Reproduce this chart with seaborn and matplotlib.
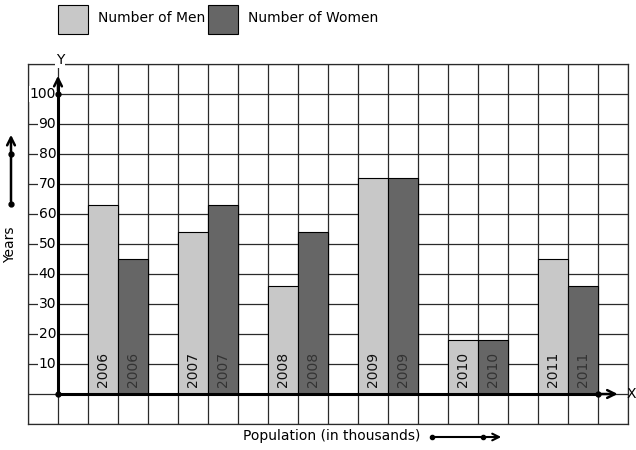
import numpy as np
import pandas as pd
import matplotlib
matplotlib.use("Agg")
import matplotlib.pyplot as plt
import seaborn as sns

# data
years = ["2006", "2007", "2008", "2009", "2010", "2011"]
men = [63, 54, 36, 72, 18, 45]
women = [45, 63, 54, 72, 18, 36]
series_names = ["Number of Men", "Number of Women"]
yticks = [10, 20, 30, 40, 50, 60, 70, 80, 90, 100]

light = "#c8c8c8"
dark = "#666666"

df = pd.DataFrame({
    "year": years * 2,
    "value": men + women,
    "series": [series_names[0]] * len(years) + [series_names[1]] * len(years),
})

sns.set_style("white")
plt.rcParams["font.family"] = ["DejaVu Sans"]
plt.rcParams["text.color"] = "black"

W, H = 636, 450
fig = plt.figure(figsize=(W / 100, H / 100), dpi=100)
ax = fig.add_axes([28 / W, (H - 424) / H, 600 / W, 360 / H])

# one category = 3 grid cells, each bar = 1 cell
sns.barplot(data=df, x="year", y="value", hue="series", order=years,
            hue_order=series_names, palette=[light, dark], width=2 / 3,
            edgecolor="black", linewidth=0.8, legend=False, ax=ax, zorder=3)

ax.set_xlim(-1, 17 / 3)
ax.set_ylim(-10, 110)

# grid of square cells
for gx in np.arange(-1, 17 / 3 + 0.01, 1 / 3):
    ax.axvline(gx, color="#2a2a2a", lw=0.9, zorder=1)
for gy in range(-10, 111, 10):
    ax.axhline(gy, color="#2a2a2a", lw=0.9, zorder=1)
for s in ax.spines.values():
    s.set_color("#2a2a2a")
    s.set_linewidth(0.9)

ax.set_xticks([])
ax.set_yticks([])
ax.set_xlabel("")
ax.set_ylabel("")

# axes drawn as thick lines with arrows
x0 = -2 / 3
ax.plot([x0, x0], [0, 104], color="black", lw=2.2, zorder=5, clip_on=False)
ax.annotate("", xy=(x0, 107), xytext=(x0, 100),
            arrowprops=dict(arrowstyle="->", lw=1.8, color="black",
                            mutation_scale=14), zorder=6)
ax.plot([x0, 16 / 3], [0, 0], color="black", lw=2.2, zorder=5)
ax.annotate("", xy=(16 / 3 + 0.25, 0), xytext=(16 / 3, 0),
            arrowprops=dict(arrowstyle="->", lw=1.8, color="black",
                            mutation_scale=14), zorder=6, annotation_clip=False)
ax.plot([x0, x0, 16 / 3], [0, 100, 0], "o", color="black", ms=3.5, zorder=7,
        clip_on=False)
ax.text(x0 + 0.02, 111.2, "Y", ha="center", va="center", fontsize=10,
        zorder=8, bbox=dict(facecolor="white", edgecolor="none", pad=0.5))
ax.text(17 / 3 - 0.02, 0, "X", ha="left", va="center", fontsize=10)

for v in yticks:
    ax.text(x0 - 0.02, v, str(v), ha="right", va="center", fontsize=10,
            zorder=4, bbox=dict(facecolor="white", edgecolor="none", pad=0.6))

# year labels inside the bars
for i, yr in enumerate(years):
    ax.text(i - 1 / 6, 2.3, yr, rotation=90, ha="center", va="bottom",
            fontsize=10, color="#111111", zorder=6)
    ax.text(i + 1 / 6, 2.3, yr, rotation=90, ha="center", va="bottom",
            fontsize=10, color="#333333", zorder=6)

# legend boxes at the top
for x, c, name in [(58, light, series_names[0]), (208, dark, series_names[1])]:
    fig.patches.append(plt.Rectangle((x / W, (H - 34) / H), 30 / W, 29 / H,
                                     facecolor=c, edgecolor="black", lw=0.8,
                                     transform=fig.transFigure, figure=fig))
    fig.text((x + 40) / W, (H - 18) / H, name, ha="left", va="center",
             fontsize=10)

# outer labels
fig.text(10 / W, (H - 245) / H, "Years", rotation=90, ha="center",
         va="center", fontsize=10)
fig.add_artist(matplotlib.patches.FancyArrowPatch(
    (11 / W, (H - 204) / H), (11 / W, (H - 132) / H),
    transform=fig.transFigure, arrowstyle="->", lw=1.8, mutation_scale=14,
    color="black"))
fig.add_artist(matplotlib.lines.Line2D([11 / W, 11 / W],
                                       [(H - 204) / H, (H - 154) / H],
                                       transform=fig.transFigure, marker="o",
                                       ms=3.5, lw=0, color="black"))

fig.text(243 / W, (H - 436) / H, "Population (in thousands)", ha="left",
         va="center", fontsize=10)
fig.add_artist(matplotlib.patches.FancyArrowPatch(
    (432 / W, (H - 437) / H), (504 / W, (H - 437) / H),
    transform=fig.transFigure, arrowstyle="->", lw=1.5, mutation_scale=12,
    color="black"))
fig.add_artist(matplotlib.lines.Line2D([432 / W, 483 / W],
                                       [(H - 437) / H, (H - 437) / H],
                                       transform=fig.transFigure, marker="o",
                                       ms=3, lw=0, color="black"))

fig.savefig("out.png", dpi=100)
